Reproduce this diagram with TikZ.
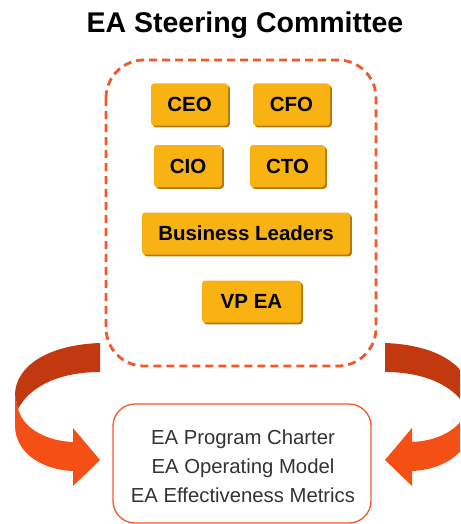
\documentclass[tikz,border=0pt]{standalone}
\usepackage{fontspec}
\setmainfont{Liberation Sans}
\usetikzlibrary{shadows}

\definecolor{deckorange}{HTML}{F4572A}
\definecolor{ribbondark}{HTML}{C2390F}
\definecolor{ribbonlight}{HTML}{F44F14}
\definecolor{roleyellow}{HTML}{F8B313}
\definecolor{roleshade}{HTML}{B27A0C}
\definecolor{outtext}{HTML}{333333}

\begin{document}
\begin{tikzpicture}[x=1pt, y=-1pt,
    role/.style={fill=roleyellow, rounded corners=3pt, minimum height=42pt,
      inner sep=0pt, font=\fontsize{20.5}{22}\selectfont\bfseries,
      drop shadow={shadow xshift=1.8pt, shadow yshift=-1.8pt, fill=roleshade, opacity=1}},
    committee/.style={draw=deckorange, line width=2.8pt, dash pattern=on 8pt off 5pt,
      rounded corners=38pt},
    outcome/.style={draw=deckorange, line width=1.3pt, rounded corners=22pt,
      minimum width=258pt, minimum height=119pt},
    turn/.pic={
      \fill[ribbonlight] (15,395) -- (15,425) .. controls (15,455) and (45,470) .. (73,471)
        -- (73,486) -- (100,460) -- (73,428) -- (73,442)
        .. controls (48,441) and (24,430) .. (18,409) -- cycle;
      \fill[ribbondark] (100,343) .. controls (45,345) and (15,368) .. (15,395)
        -- (18,409) .. controls (30,386) and (60,372) .. (100,372) -- cycle;
    }]
  \useasboundingbox (0,0) rectangle (460,524);

  \node[anchor=base, font=\fontsize{28.5}{30}\selectfont\bfseries] (title) at (245,33)
    {EA Steering Committee};

  \draw[committee] (106,60) rectangle (376,366);

  \node[role, minimum width=77pt] (ceo) at (189.5,104.5) {CEO};
  \node[role, minimum width=77pt] (cfo) at (291.5,104.5) {CFO};
  \node[role, minimum width=68pt] (cio) at (188,166) {CIO};
  \node[role, minimum width=75pt] (cto) at (287.5,166) {CTO};
  \node[role, minimum width=208pt] (biz) at (246,233.5) {Business Leaders};
  \node[role, minimum width=99pt] (vpea) at (251.5,301.5) {VP EA};

  % feedback ribbons
  \pic (leftturn) at (0,0) {turn};
  \begin{scope}
    \clip (0,0) rectangle (460,524);
    \pic[shift={(485,0)}, xscale=-1] (rightturn) at (0,0) {turn};
  \end{scope}

  \node[outcome] (charter) at (242,463.5) {};
  \node[align=center, text=outtext, font=\fontsize{20.3}{29}\selectfont] (charterText)
    at (243,466.5) {EA Program Charter\\EA Operating Model\\EA Effectiveness Metrics};
\end{tikzpicture}
\end{document}
